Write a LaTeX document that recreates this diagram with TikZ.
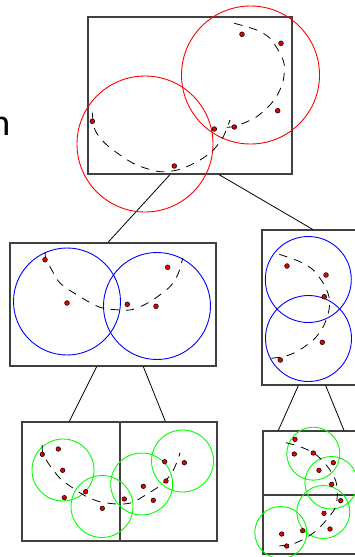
\documentclass[tikz,border=0pt]{standalone}
\usepackage{fontspec}
\newfontfamily\capfont{Carlito}
\usetikzlibrary{calc}
\tikzset{
  box/.style={draw=black!75, line width=1.2pt, rectangle, inner sep=0pt},
  conn/.style={draw=black, line width=0.8pt},
  redc/.style={draw=red, line width=0.9pt},
  bluec/.style={draw=blue, line width=0.9pt},
  greenc/.style={draw=green, line width=0.9pt},
  curve/.style={draw=black, line width=0.8pt, dash pattern=on 8.5pt off 7pt},
  dotmark/.style={draw=black, fill=red!90!black, line width=0.5pt}
}
\begin{document}
\begin{tikzpicture}[x=1pt,y=-1pt]
\useasboundingbox (0,0) rectangle (355,557);

% partial label at the left edge
\node[anchor=base east, font=\capfont\fontsize{38}{40}\selectfont, inner sep=0pt] (lbl) at (10.5,135) {n};

% boxes
\node[box, minimum width=204pt, minimum height=157pt] (top) at (190,95.5) {};
\node[box, minimum width=206pt, minimum height=123pt] (midL) at (113,304.5) {};
\node[box, minimum width=98pt, minimum height=155pt] (midR) at (311,307.5) {};
\node[box, minimum width=98pt, minimum height=119pt] (bl1) at (71,481.5) {};
\node[box, minimum width=97pt, minimum height=119pt] (bl2) at (168.5,481.5) {};
\node[box, minimum width=97pt, minimum height=64pt] (br1) at (311.5,463) {};
\node[box, minimum width=97pt, minimum height=59pt] (br2) at (311.5,524.5) {};

% connectors
\draw[conn] ([xshift=-20pt]top.south) -- ([xshift=-5pt]midL.north);
\draw[conn] ([xshift=29pt]top.south) -- ([xshift=1.7pt]midR.north);
\draw[conn] ([xshift=-16.3pt]midL.south) -- ([xshift=-1.7pt]bl1.north);
\draw[conn] ([xshift=30.3pt]midL.south) -- ([xshift=-3.2pt]bl2.north);
\draw[conn] ([xshift=-12.7pt]midR.south) -- ([xshift=-33.2pt]br1.north);
\draw[conn] ([xshift=14.7pt]midR.south) -- ([xshift=32.5pt]br1.north);

% top level
\draw[redc] (250.5,75) circle (69pt);
\draw[redc] (145,144) circle (68pt);
\draw[curve] plot[smooth] coordinates {(92.3,112.7) (95,130) (105,143.3) (120,155) (136.7,165) (160,171.7) (180,169.3) (200,160) (213.3,150) (223.3,136.7) (230,120)};
\draw[curve] plot[smooth] coordinates {(234.3,23.3) (256.7,30) (270,38.3) (280,53.3) (284.3,65) (283.3,80) (278.3,93.3) (270,105) (256.7,116.7) (243.3,123.3) (233.3,126.7) (225,127.3)};
\foreach \p in {(242,34.3),(281,43.3),(277.7,110.7),(234.3,127),(214.3,129),(92.3,121.3),(174.3,166)}
  \filldraw[dotmark] \p circle (2.4pt);

% middle left
\draw[bluec] (67,301.5) circle (53.5pt);
\draw[bluec] (157,306) circle (53.5pt);
\draw[curve] plot[smooth] coordinates {(45,251.7) (46,260) (50,266.7) (60,283) (80,296.7) (100,307.3) (120,310) (133.3,309.3) (150,301.7) (170,286.7) (178.3,273.3) (182.7,258.3)};
\foreach \p in {(45,259.7),(67,303),(127.3,304.3),(156,306.3),(167.7,267.3)}
  \filldraw[dotmark] \p circle (2.4pt);

% middle right
\draw[bluec] (308.3,279.5) circle (43pt);
\draw[bluec] (308.5,338.5) circle (43pt);
\draw[curve] plot[smooth] coordinates {(279.3,254.3) (300,261.7) (313.3,270) (323.3,283.3) (329,296.7) (329,310) (323.3,326.7) (313.3,340) (296.7,351.7) (283.3,356.7) (270,358.3)};
\foreach \p in {(287,266),(326,275),(324.3,296.7),(322.3,342.3),(280.3,360)}
  \filldraw[dotmark] \p circle (2.4pt);

% bottom left
\draw[greenc] (63,470) circle (31pt);
\draw[greenc] (102,506.5) circle (31pt);
\draw[greenc] (141.7,484) circle (31pt);
\draw[greenc] (182.5,461) circle (31pt);
\draw[curve] plot[smooth] coordinates {(42.3,445) (42.5,452) (48.3,463.3) (60,478.3) (73.3,488.3) (86.7,496.7) (100,501.7) (116.7,504) (131.7,502.7) (146.7,494.3) (163.3,483.3) (173.3,470) (178.3,458.3) (180,452.7)};
\foreach \p in {(42.3,454.3),(58.3,449),(62.7,470.3),(64.3,497.7),(85.7,491.7),(102.3,508.3),(124.3,499),(143.3,486.3),(153.3,500.3),(166,481),(164.7,461.7),(184.3,462.7)}
  \filldraw[dotmark] \p circle (2.3pt);

% bottom right
\draw[greenc] (313.3,453.7) circle (26.5pt);
\draw[greenc] (331.2,482.8) circle (26.3pt);
\draw[greenc] (323.3,512) circle (26.5pt);
\draw[greenc] (280.8,532.5) circle (26pt);
\draw[curve] plot[smooth] coordinates {(286,442.7) (300,446.7) (313.3,452.7) (321.7,460) (330,470) (336,481.7) (337.3,495) (335,508.3) (325,521.7) (315,531.7) (303.3,539.3) (291.7,544.3) (278.3,546)};
\foreach \p in {(295,439.3),(294.3,454),(313.3,453),(333.3,462.7),(319,470.3),(331.7,484.3),(340.7,500.7),(324,513.3),(330,529),(302.7,530.7),(281.7,534),(286.7,546)}
  \filldraw[dotmark] \p circle (2.3pt);
\end{tikzpicture}
\end{document}
